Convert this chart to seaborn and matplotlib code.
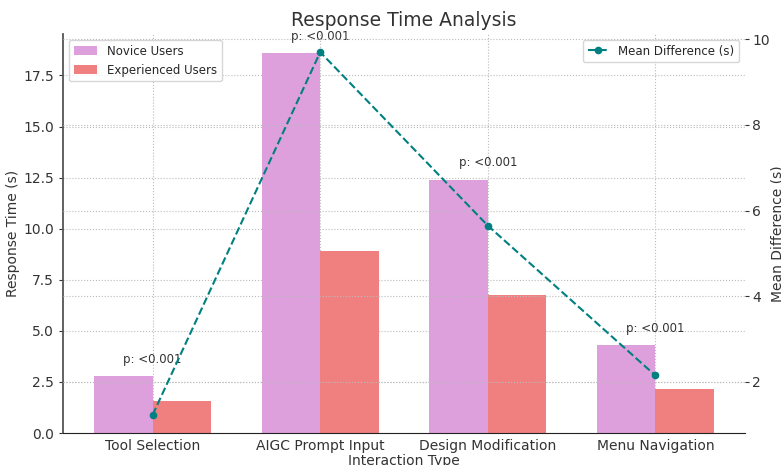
import matplotlib
matplotlib.use('Agg')
import matplotlib.pyplot as plt
import seaborn as sns
import pandas as pd

# Datos
interaction_types = ['Tool Selection', 'AIGC Prompt Input', 'Design Modification', 'Menu Navigation']
novice_times = [2.8, 18.6, 12.4, 4.3]
experienced_times = [1.57, 8.9, 6.75, 2.15]
mean_difference = [1.23, 9.7, 5.65, 2.15]
p_labels = ['p: <0.001', 'p: <0.001', 'p: <0.001', 'p: <0.001']

data = pd.DataFrame({
    'Interaction Type': interaction_types * 2,
    'Response Time (s)': novice_times + experienced_times,
    'Group': ['Novice Users'] * 4 + ['Experienced Users'] * 4,
})

sns.set_style('white')
plt.rcParams['font.family'] = ['DejaVu Sans']

fig = plt.figure(figsize=(7.81, 4.65), dpi=100)
ax = fig.add_axes([63 / 781, 1 - 433 / 465, (745 - 63) / 781, (433 - 34) / 465])

sns.barplot(
    data=data, x='Interaction Type', y='Response Time (s)', hue='Group',
    palette=['plum', 'lightcoral'], width=0.7, saturation=1, linewidth=0, ax=ax,
)

# Etiquetas de significancia sobre las barras
for i, (nov, exp) in enumerate(zip(novice_times, experienced_times)):
    ax.text(i, max(nov, exp) + 0.5, p_labels[i], ha='center', va='bottom',
            fontsize=8.5, color='#333333')

ax.set_title('Response Time Analysis', fontsize=13.5, color='#333333', pad=6)
ax.set_xlabel('Interaction Type', fontsize=10, color='#333333', labelpad=1)
ax.set_ylabel('Response Time (s)', fontsize=10, color='#333333', labelpad=2)
ax.tick_params(axis='x', labelsize=10, length=3, pad=1, colors='#333333')
ax.tick_params(axis='y', labelsize=10, length=3, colors='#333333')
ax.grid(True, linestyle=':', color='#bbbbbb', linewidth=0.8)
ax.set_axisbelow(True)
for s in ['top', 'right']:
    ax.spines[s].set_visible(False)
ax.spines['left'].set_color('#555555')
ax.spines['left'].set_linewidth(1.3)
ax.spines['bottom'].set_color('#222222')
ax.legend(loc='upper left', fontsize=8.5, frameon=True, handlelength=2.0)

# Eje secundario con la diferencia media
ax2 = ax.twinx()
ax2.plot(range(len(interaction_types)), mean_difference, linestyle='--', marker='o',
         color='teal', markersize=4.5, linewidth=1.5, label='Mean Difference (s)')
ax2.set_ylabel('Mean Difference (s)', fontsize=10, color='#333333', labelpad=1)
ax2.tick_params(axis='y', labelsize=10, length=3, pad=2, colors='#333333')
ax2.grid(True, axis='y', linestyle=':', color='#bbbbbb', linewidth=0.8)
for s in ['top', 'right', 'left', 'bottom']:
    ax2.spines[s].set_visible(False)
ax2.legend(loc='upper right', fontsize=8.5, frameon=True, handlelength=1.8)

fig.savefig('out.png', dpi=100)
plt.close(fig)
